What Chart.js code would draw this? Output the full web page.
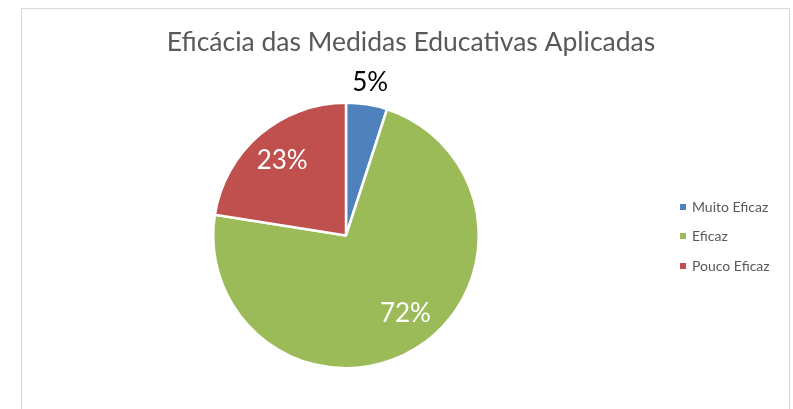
<!DOCTYPE html>
<html>
<head>
<meta charset="utf-8">
<script src="https://cdn.jsdelivr.net/npm/chart.js@4/dist/chart.umd.min.js"></script>
<style>
  html, body { margin: 0; padding: 0; background: #fff; }
  #wrap { position: relative; width: 793px; height: 409px; overflow: hidden; }
  #frame { position: absolute; left: 21px; top: 8px; width: 769px; height: 420px;
           border: 1.5px solid #d9d9d9; box-sizing: border-box; }
  canvas { position: absolute; left: 0; top: 0; }
</style>
</head>
<body>
<div id="wrap">
  <div id="frame"></div>
  <canvas id="myChart" width="793" height="409"></canvas>
</div>
<script>
const chartTitle = 'Eficácia das Medidas Educativas Aplicadas';
const categories = ['Muito Eficaz', 'Eficaz', 'Pouco Eficaz'];
const values = [2, 29, 9]; // respostas (5%, 72%, 23%)
const colors = ['#4f81bd', '#9bbb59', '#c0504d'];

const FONT = 'Lato, "Open Sans", sans-serif';

// titulo, rotulos e legenda desenhados a mao
const extras = {
  id: 'extras',
  afterDraw(chart) {
    const ctx = chart.ctx;
    ctx.save();
    ctx.fillStyle = '#595959';
    ctx.font = '26.5px ' + FONT;
    ctx.textAlign = 'center';
    ctx.textBaseline = 'middle';
    ctx.fillText(chartTitle, 411, 42);

    const total = values.reduce((a, b) => a + b, 0);
    const meta = chart.getDatasetMeta(0);
    meta.data.forEach((arc, i) => {
      let mid = (arc.startAngle + arc.endAngle) / 2;
      // arredonda como o excel (0.725 -> 72%, 0.225 -> 23%)
      const pct = Math.round(Number((values[i] / total).toFixed(2)) * 100) + '%';
      let r, col;
      if (values[i] / total < 0.1) {
        r = arc.outerRadius + 22; col = '#000';
      } else {
        r = arc.outerRadius * 0.74; col = '#fff';
        if (i === 1) mid -= 0.1;
      }
      ctx.fillStyle = col;
      ctx.font = '26px ' + FONT;
      ctx.fillText(pct, arc.x + Math.cos(mid) * r, arc.y + Math.sin(mid) * r);
    });

    // legenda
    const rows = [207, 236, 266];
    ctx.textAlign = 'left';
    ctx.font = '14px ' + FONT;
    categories.forEach((c, i) => {
      ctx.fillStyle = colors[i];
      ctx.fillRect(680, rows[i] - 3, 6, 6);
      ctx.fillStyle = '#595959';
      ctx.fillText(c, 692, rows[i]);
    });
    ctx.restore();
  }
};

const ctx = document.getElementById('myChart').getContext('2d');
const myChart = new Chart(ctx, {
  type: 'pie',
  data: {
    labels: categories,
    datasets: [{
      data: values,
      backgroundColor: colors,
      borderColor: '#ffffff',
      borderWidth: 2.5
    }]
  },
  options: {
    responsive: false,
    animation: false,
    layout: { padding: { left: 212, right: 313, top: 101, bottom: 39 } },
    plugins: {
      legend: { display: false },
      tooltip: { enabled: false }
    }
  },
  plugins: [extras]
});
</script>
</body>
</html>
